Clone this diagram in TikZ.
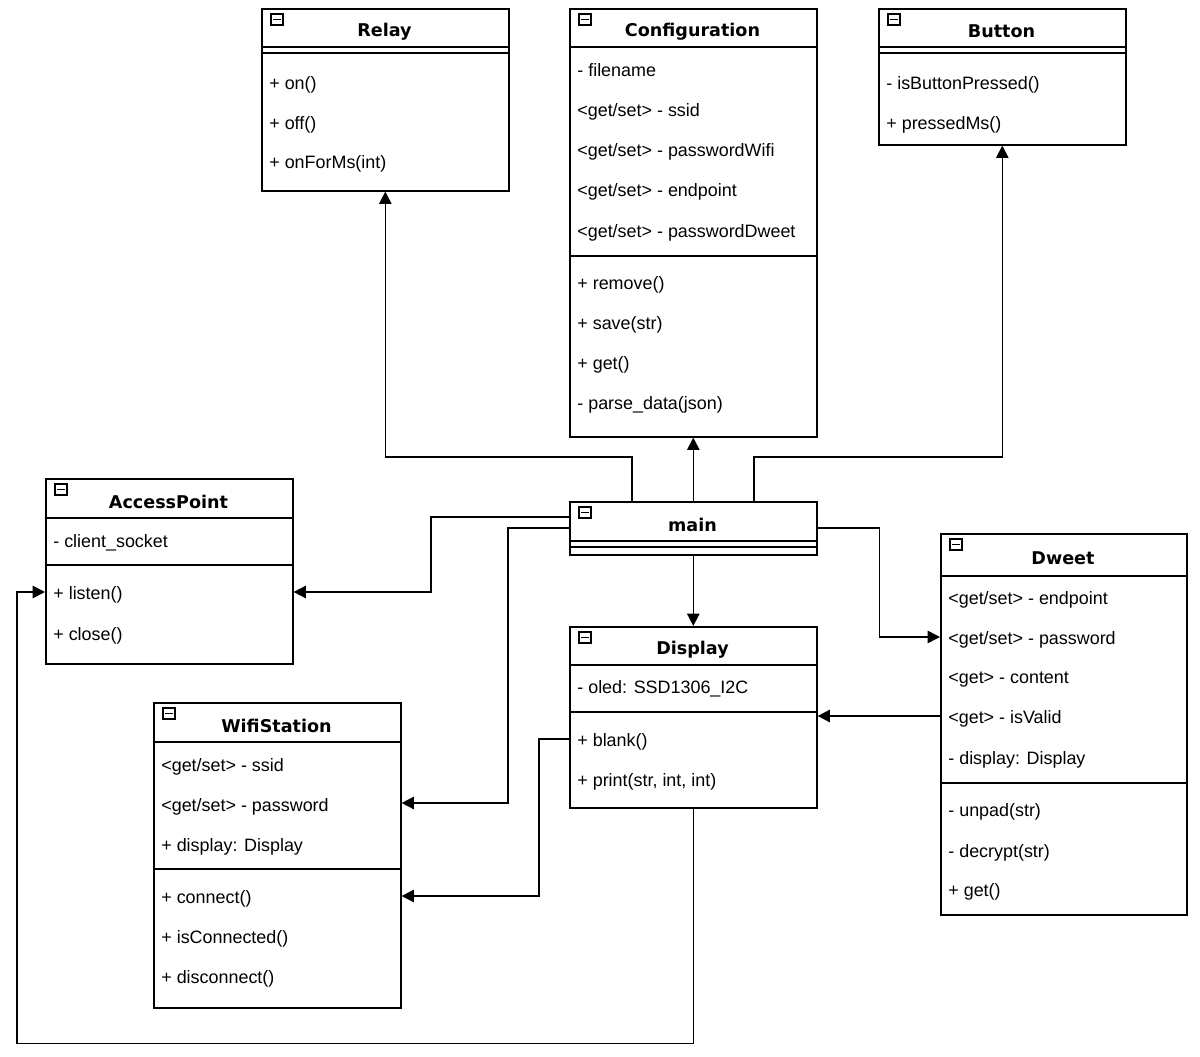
\documentclass[tikz,border=0pt]{standalone}
\usepackage{fontspec}
\setmainfont{Liberation Sans}
\newfontfamily\hdfont{DejaVu Sans}
\usetikzlibrary{calc,arrows.meta}
\tikzset{
 box/.style={draw, line width=0.9pt, inner sep=0pt, fill=white},
 ttl/.style={font=\hdfont\bfseries\fontsize{10}{12}\selectfont},
 item/.style={anchor=west, inner sep=0pt, yshift=-0.05cm, font=\fontsize{10.2}{12}\selectfont},
 arr/.style={line width=0.9pt, -{Triangle[length=7pt,width=7pt]}},
 ln/.style={line width=0.9pt}
}
\newcommand\ubox[7]{%
 \node[box, minimum width={(#4-#2)*0.02cm}, minimum height={(#5-#3)*0.02cm}, anchor=north west] (#1) at (#2,#3) {};
 \node[ttl] (#1t) at ({(#2+#4)/2},{(#3+#6)/2+4}) {#7};
 \draw[line width=0.6pt] (#2+10,#3+6) rectangle (#2+22,#3+17);
 \draw[line width=0.6pt] (#2+12,#3+11.5) -- (#2+20,#3+11.5);
 \draw[ln] (#2,#6) -- (#4,#6);
}
\newcommand\dbl[3]{\draw[ln] (#1,#3+6) -- (#2,#3+6);}
\newcommand\sep[3]{\draw[ln] (#1,#3) -- (#2,#3);}
\begin{document}
\begin{tikzpicture}[x=0.02cm,y=-0.02cm]
\useasboundingbox[fill=white] (0,0) rectangle (1200,1057);
% Relay
\ubox{relay}{261}{8}{508}{190}{47}{Relay}\dbl{261}{508}{47}
\foreach \y/\t in {82/{+ on()},122/{+ off()},161/{+ onForMs(int)}} \node[item] at (269,\y) {\t};
% Configuration
\ubox{conf}{569}{8}{816}{436}{47}{Configuration}
\foreach \y/\t in {68/{- filename},109/{<get/set> - ssid},149/{<get/set> - passwordWifi},189/{<get/set> - endpoint},230/{<get/set> - passwordDweet},282/{+ remove()},322/{+ save(str)},362/{+ get()},402/{- parse\_data(json)}} \node[item] at (577,\y) {\t};
\sep{569}{816}{256}
% Button
\ubox{button}{878}{8}{1125}{144}{47}{Button}\dbl{878}{1125}{47}
\foreach \y/\t in {82/{- isButtonPressed()},122/{+ pressedMs()}} \node[item] at (886,\y) {\t};
% AccessPoint
\ubox{ap}{45}{478}{292}{663}{518}{AccessPoint}
\foreach \y/\t in {540/{- client\_socket},592/{+ listen()},633/{+ close()}} \node[item] at (53,\y) {\t};
\sep{45}{292}{565}
% main
\ubox{main}{569}{501}{816}{554}{541}{main}\dbl{569}{816}{541}
% Dweet
\ubox{dweet}{940}{533}{1186}{914}{576}{Dweet}
\foreach \y/\t in {597/{<get/set> - endpoint},637/{<get/set> - password},677/{<get> - content},716/{<get> - isValid},757/{- display: Display},809/{- unpad(str)},850/{- decrypt(str)},889/{+ get()}} \node[item] at (948,\y) {\t};
\sep{940}{1186}{783}
% Display
\ubox{disp}{569}{626}{816}{807}{665}{Display}
\foreach \y/\t in {686/{- oled: SSD1306\_I2C},739/{+ blank()},779/{+ print(str, int, int)}} \node[item] at (577,\y) {\t};
\sep{569}{816}{712}
% WifiStation
\ubox{wifi}{153}{702}{400}{1007}{742}{WifiStation}
\foreach \y/\t in {764/{<get/set> - ssid},804/{<get/set> - password},844/{+ display: Display},896/{+ connect()},936/{+ isConnected()},976/{+ disconnect()}} \node[item] at (161,\y) {\t};
\sep{153}{400}{869}
% connectors
\draw[arr] ($(main.north west)+(63,0)$) -- ++(0,-44) -| (relay.south);
\draw[arr] (main.north) -- (conf.south);
\draw[arr] ($(main.north west)+(185,0)$) -- ++(0,-44) -| (button.south);
\draw[arr] ($(main.north west)+(0,16)$) -- ++(-138,0) |- ($(ap.north east)+(0,114)$);
\draw[arr] ($(main.north west)+(0,27)$) -- ++(-61,0) |- ($(wifi.north east)+(0,101)$);
\draw[arr] (main.south) -- (disp.north);
\draw[arr] ($(main.north east)+(0,27)$) -- ++(62,0) |- ($(dweet.north west)+(0,104)$);
\draw[arr] ($(dweet.north west)+(0,183)$) -- ($(disp.north east)+(0,90)$);
\draw[arr] ($(disp.north west)+(0,113)$) -- ++(-30,0) |- ($(wifi.north east)+(0,194)$);
\draw[arr] (disp.south) -- ++(0,235) -| (17,592) -- ($(ap.north west)+(0,114)$);
\end{tikzpicture}
\end{document}
